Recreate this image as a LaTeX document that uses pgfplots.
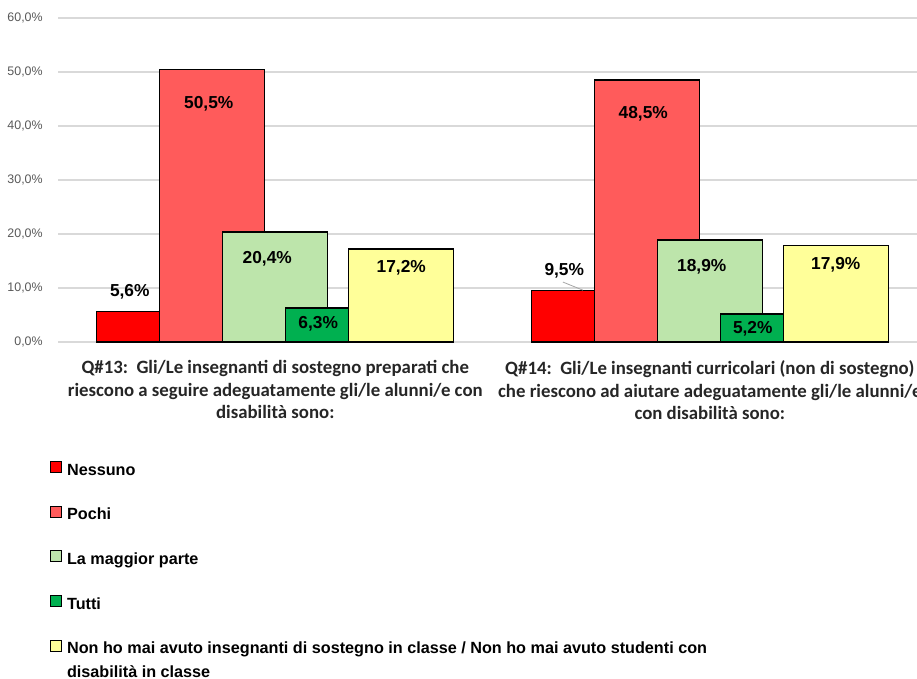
\documentclass[border=0pt]{standalone}
\usepackage{pgfplots}
\pgfplotsset{compat=1.18}
\usepackage{fontspec}
\setmainfont{Liberation Sans}
\newfontfamily\catfont{Carlito}
\definecolor{cNes}{HTML}{FF0000}
\definecolor{cPoc}{HTML}{FF5B5B}
\definecolor{cMag}{HTML}{BDE5AB}
\definecolor{cTut}{HTML}{00B050}
\definecolor{cNon}{HTML}{FFFF99}
\definecolor{gridc}{HTML}{D9D9D9}
\definecolor{tickc}{HTML}{595959}
\pgfplotsset{
  sqleg/.style={legend image code/.code={\draw[##1,line width=0.8pt] (0pt,-1pt) rectangle (8.25pt,7.25pt);}},
  lab/.style 2 args={nodes near coords={\pgfmathprintnumber[fixed,fixed zerofill,precision=1,use comma]{\pgfplotspointmeta}\%},
    every node near coord/.append style={anchor=center,xshift=#1,yshift=#2,text=black,font=\bfseries\fontsize{13}{15}\selectfont}},
}
\begin{document}
\begin{tikzpicture}
\begin{axis}[
  at={(43.5pt,252pt)}, anchor=south west,
  scale only axis, width=651.75pt, height=243pt,
  xmin=0, xmax=2, ymin=0, ymax=60,
  ybar, bar width=78.75pt,
  point meta=explicit symbolic,
  xtick={0.5,1.5},
  xticklabels={{Q\#13:\ \ Gli/Le insegnanti di sostegno preparati che\\riescono a seguire adeguatamente gli/le alunni/e con\\disabilità sono:},
               {Q\#14:\ \ Gli/Le insegnanti curricolari (non di sostegno)\\che riescono ad aiutare adeguatamente gli/le alunni/e\\con disabilità sono:}},
  xticklabel style={font=\catfont\bfseries\fontsize{14.1}{16.9}\selectfont, align=center, text=black!85, yshift=-10.5pt},
  ytick={0,10,...,60},
  /pgf/number format/assume math mode=true,
  yticklabel={\pgfmathprintnumber[fixed,fixed zerofill,precision=1,use comma]{\tick}\%},
  yticklabel style={font=\fontsize{9.3}{11}\selectfont, text=tickc, xshift=-8pt},
  ymajorgrids, grid style={gridc, line width=0.8pt},
  axis line style={draw=none}, major tick length=0pt, tick style={draw=none},
  clip=false,
  legend cell align=left,
  legend style={draw=none, fill=none, at={(axis description cs:-0.0092,-0.3673)}, anchor=north west,
    inner sep=0pt, outer sep=0pt, row sep=19.85pt, column sep=3.75pt,
    font=\bfseries\fontsize{12.15}{18}\selectfont,
    nodes={inner sep=0pt, text height=9pt, text depth=3pt}},
]
\addplot[fill=cNes, draw=black, line width=1pt, bar shift=-94.5pt, sqleg, lab={-14.6pt}{15pt}]
  coordinates {(0.5,5.6) [5.6] (1.5,9.5) [9.5]};
\addlegendentry{Nessuno}
\addplot[fill=cPoc, draw=black, line width=1pt, bar shift=-47.25pt, sqleg, lab={-2.6pt}{-25.5pt}]
  coordinates {(0.5,50.5) [50.5] (1.5,48.5) [48.5]};
\addlegendentry{Pochi}
\addplot[fill=cMag, draw=black, line width=1pt, bar shift=0pt, sqleg, lab={-6pt}{-19.9pt}]
  coordinates {(0.5,20.4) [20.4] (1.5,18.9) [18.9]};
\addlegendentry{La maggior parte}
\addplot[fill=cTut, draw=black, line width=1pt, bar shift=47.25pt, sqleg, lab={-15pt}{-11.5pt}]
  coordinates {(0.5,6.3) [6.3] (1.5,5.2) [5.2]};
\addlegendentry{Tutti}
\addplot[fill=cNon, draw=black, line width=1pt, bar shift=94.5pt, sqleg, lab={0pt}{-14.25pt}]
  coordinates {(0.5,17.2) [17.2] (1.5,17.9) [17.9]};
\addlegendentry{\raisebox{0pt}[\height][0pt]{\begin{tabular}[t]{@{}l@{}}Non ho mai avuto insegnanti di sostegno in classe / Non ho mai avuto studenti con\\disabilità in classe\end{tabular}}}
\draw[gray!70, line width=0.6pt] (axis cs:1.162,11.1) -- (axis cs:1.208,9.6);
\end{axis}
\pgfresetboundingbox
\useasboundingbox (0,0) rectangle (687.75pt,508.5pt);
\end{tikzpicture}
\end{document}
